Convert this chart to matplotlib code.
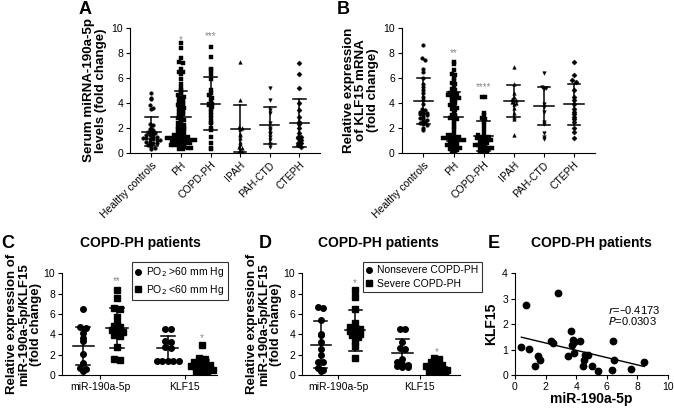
import numpy as np
import matplotlib.pyplot as plt

plt.rcParams['font.family'] = ['Liberation Sans', 'DejaVu Sans']

# ---- panel A: serum miRNA-190a-5p ----
cats = ['Healthy controls', 'PH', 'COPD-PH', 'IPAH', 'PAH-CTD', 'CTEPH']
a_healthy = [4.8, 4.4, 4.3, 3.8, 3.6, 3.5, 2.3, 2.2, 2.0, 1.9, 1.8, 1.7, 1.7, 1.6, 1.5, 1.5,
             1.4, 1.4, 1.3, 1.3, 1.2, 1.2, 1.1, 1.1, 1.0, 1.0, 0.9, 0.9, 0.8, 0.8, 0.7, 0.6,
             0.5, 0.4, 0.3]
a_ph = [8.8, 8.4, 7.6, 7.3, 7.2, 6.7, 6.5, 6.5, 6.3, 5.9, 5.5, 5.2, 5.0, 4.9, 4.8, 4.6,
        4.4, 4.3, 4.2, 4.1, 4.0, 3.9, 3.9, 3.8, 3.7, 3.5, 3.4, 3.3, 3.2, 3.0, 2.9, 2.8,
        2.7, 2.5, 2.4, 2.3, 2.2, 2.1, 2.0, 2.0, 1.9, 1.8, 1.7, 1.6, 1.5, 1.5, 1.4, 1.4,
        1.3, 1.3, 1.3, 1.2, 1.2, 1.2, 1.1, 1.1, 1.1, 1.0, 1.0, 1.0, 0.9, 0.9, 0.9, 0.8,
        0.8, 0.8, 0.7, 0.7, 0.7, 0.6, 0.6, 0.6, 0.5, 0.5, 0.4, 0.4, 0.3, 0.3, 3.6, 4.5,
        2.6, 1.6, 1.9, 3.1]
a_copd = [8.5, 7.7, 6.7, 6.6, 6.3, 5.9, 5.0, 4.8, 4.6, 4.4, 4.3, 4.0, 3.9, 3.9, 3.8, 3.7,
          3.5, 3.3, 3.0, 2.8, 2.5, 2.4, 2.0, 1.8, 1.3, 0.8, 0.4, 0.3]
a_ipah = [7.3, 4.2, 2.1, 2.0, 1.9, 1.5, 1.4, 1.2, 0.9, 0.7, 0.5, 0.4, 0.2, 0.1, 0.05]
a_ctd = [5.2, 4.2, 3.4, 3.2, 2.4, 2.0, 1.8, 1.6, 1.5, 1.3, 1.0, 0.7, 0.5]
a_cteph = [7.2, 6.3, 5.2, 4.0, 3.4, 2.9, 2.5, 2.3, 2.0, 1.6, 1.3, 1.3, 1.2, 1.0, 0.8, 0.8,
           0.6, 0.5]
a_mean = [1.7, 2.85, 3.95, 1.95, 2.2, 2.4]
a_sd = [1.15, 2.1, 2.15, 1.85, 1.45, 1.95]
a_stars = ['', '*', '***', '', '', '']
a_star_y = [0, 9.0, 9.35, 0, 0, 0]

# ---- panel B: KLF15 mRNA ----
b_healthy = [8.6, 7.6, 7.4, 6.7, 6.5, 6.0, 5.5, 5.3, 5.0, 4.8, 4.5, 4.2, 3.9, 3.5, 3.4, 3.3,
             3.2, 3.2, 3.1, 3.1, 3.0, 2.9, 2.8, 2.7, 2.6, 2.5, 2.5, 2.4, 2.3, 2.2, 2.0, 1.8]
b_ph = [7.3, 7.1, 6.6, 6.3, 6.2, 6.0, 5.8, 5.6, 5.5, 5.3, 5.1, 5.0, 4.9, 4.8, 4.8, 4.7,
        4.6, 4.5, 4.5, 4.4, 4.3, 4.2, 4.1, 4.0, 3.9, 3.8, 3.7, 3.6, 3.5, 3.4, 3.2, 3.0,
        3.0, 2.9, 2.9, 2.8, 2.8, 2.7, 2.5, 2.3, 2.1, 1.9, 1.6, 1.4, 1.4, 1.3, 1.3, 1.2,
        1.2, 1.2, 1.1, 1.1, 1.0, 1.0, 0.9, 0.8, 0.8, 0.7, 0.6, 0.6, 0.5, 0.5, 0.4, 0.3,
        0.3, 0.2, 0.1, 0.05]
b_copd = [4.5, 4.5, 3.2, 3.0, 2.8, 2.7, 2.5, 2.2, 1.9, 1.6, 1.4, 1.3, 1.3, 1.3, 1.2, 1.2,
          1.1, 1.0, 1.0, 0.9, 0.8, 0.8, 0.7, 0.7, 0.6, 0.6, 0.5, 0.5, 0.4, 0.4, 0.3, 0.3,
          0.2, 0.1, 0.1, 0.05]
b_ipah = [6.9, 5.5, 4.8, 4.5, 4.3, 4.2, 4.1, 4.0, 3.9, 3.6, 3.2, 2.9, 2.7, 1.4]
b_ctd = [6.4, 5.3, 5.2, 5.1, 3.9, 3.7, 3.3, 2.5, 2.3, 1.6, 1.3, 1.1]
b_cteph = [7.3, 6.2, 5.8, 5.7, 5.0, 4.5, 4.2, 3.9, 3.5, 3.3, 3.1, 2.9, 2.7, 2.5, 2.0, 1.7,
           1.2]
b_mean = [4.15, 2.9, 1.35, 4.15, 3.75, 3.9]
b_sd = [1.85, 1.95, 1.2, 1.3, 1.55, 1.65]
b_stars = ['', '**', '****', '', '', '']
b_star_y = [0, 8.0, 5.25, 0, 0, 0]

markers6 = ['o', 's', 's', '^', 'v', 'D']

# ---- panels C and D ----
groups = ['miR-190a-5p', 'KLF15']
c_circ = [[6.5, 4.75, 4.6, 4.1, 3.6, 3.3, 2.1, 1.2, 0.7, 0.6, 0.4],
          [4.5, 4.5, 3.3, 3.2, 2.8, 2.7, 1.4, 1.4, 1.4, 1.4, 1.4]]
c_sq = [[8.4, 7.6, 6.6, 6.5, 5.7, 5.0, 4.8, 4.7, 4.4, 4.3, 4.2, 3.9, 3.8, 2.8, 1.6, 1.5],
        [3.0, 1.7, 1.6, 1.3, 1.2, 1.1, 1.0, 0.9, 0.8, 0.7, 0.6, 0.5, 0.4, 0.3, 0.3]]
c_circ_stat = [(2.85, 1.9), (2.65, 1.2)]
c_sq_stat = [(4.6, 1.95), (1.0, 0.5)]
c_stars = ['**', '*']
c_star_y = [9.2, 3.6]
c_legend = ['PO$_2$ >60 mm Hg', 'PO$_2$ <60 mm Hg']

d_circ = [[6.7, 6.6, 5.4, 4.0, 3.9, 3.2, 2.6, 2.0, 1.3, 1.3, 0.7, 0.5, 0.4],
          [4.5, 4.5, 3.2, 2.7, 2.6, 1.6, 1.3, 1.1, 1.0, 0.9, 0.8, 0.8]]
d_sq = [[8.4, 7.7, 6.5, 5.1, 4.7, 4.6, 4.5, 4.3, 4.2, 4.0, 3.9, 3.7, 3.3, 2.9, 1.7],
        [1.7, 1.6, 1.3, 1.2, 1.0, 0.9, 0.8, 0.7, 0.6, 0.5, 0.4, 0.3, 0.3, 0.2]]
d_circ_stat = [(3.0, 2.3), (2.15, 1.4)]
d_sq_stat = [(4.4, 2.0), (0.75, 0.45)]
d_stars = ['*', '*']
d_star_y = [9.0, 2.3]
d_legend = ['Nonsevere COPD-PH', 'Severe COPD-PH']

# ---- panel E ----
e_mir = [0.42, 0.70, 0.91, 1.29, 1.48, 1.67, 2.34, 2.47, 2.83, 3.50, 3.69, 3.73, 3.82,
         3.84, 3.88, 4.28, 4.47, 4.54, 4.58, 4.79, 5.06, 5.46, 6.33, 6.41, 6.50, 7.60, 8.45]
e_klf = [1.11, 2.77, 1.01, 0.34, 0.73, 0.58, 1.33, 1.27, 3.23, 0.75, 1.73, 1.19, 1.37,
         0.86, 1.30, 1.32, 0.34, 0.59, 0.77, 0.77, 0.34, 0.14, 0.20, 1.33, 0.58, 0.25, 0.51]


def swarm(vals, center, binh, dx):
    vals = np.asarray(vals, float)
    xs = np.zeros(len(vals))
    bins = np.floor(vals / binh)
    for b in np.unique(bins):
        idx = np.where(bins == b)[0]
        n = len(idx)
        xs[idx] = center + (np.arange(n) - (n - 1) / 2) * dx
    return xs, vals


def errbar(ax, x, m, s, mw, cw):
    ax.plot([x - mw / 2, x + mw / 2], [m, m], c='k', lw=1.1, zorder=4)
    ax.plot([x, x], [m - s, m + s], c='k', lw=1.1, zorder=4)
    for yy in (m - s, m + s):
        ax.plot([x - cw / 2, x + cw / 2], [yy, yy], c='k', lw=1.1, zorder=4)


def style(ax):
    for sp in ('top', 'right'):
        ax.spines[sp].set_visible(False)
    ax.tick_params(labelsize=7.5, length=3, width=0.8, pad=2)


fig = plt.figure(figsize=(6.74, 4.09), dpi=100)

# A and B
for pos, data, means, sds, stars, stary, ylab, lab, labx in [
        ([0.193, 0.626, 0.282, 0.306], [a_healthy, a_ph, a_copd, a_ipah, a_ctd, a_cteph],
         a_mean, a_sd, a_stars, a_star_y, 'Serum miRNA-190a-5p\nlevels (fold change)', 'A', 0.116),
        ([0.596, 0.626, 0.287, 0.306], [b_healthy, b_ph, b_copd, b_ipah, b_ctd, b_cteph],
         b_mean, b_sd, b_stars, b_star_y, 'Relative expression\nof KLF15 mRNA\n(fold change)', 'B', 0.499)]:
    ax = fig.add_axes(pos)
    for i, vals in enumerate(data):
        xs, ys = swarm(vals, i, 0.2, 0.115)
        ax.plot(xs, ys, ls='none', marker=markers6[i], ms=2.6, mfc='k', mec='k', mew=0.3, zorder=3)
        errbar(ax, i, means[i], sds[i], 0.65, 0.42)
        if stars[i]:
            ax.text(i, stary[i], stars[i], ha='center', va='center', fontsize=7, color='#8a8a8a')
    ax.set_xlim(-0.72, 5.7)
    ax.set_ylim(0, 10)
    ax.set_yticks([0, 2, 4, 6, 8, 10])
    ax.set_xticks(range(6))
    ax.set_xticklabels(cats, rotation=45, ha='right', rotation_mode='anchor')
    style(ax)
    ax.set_ylabel(ylab, fontsize=9.6, fontweight='bold', labelpad=3, linespacing=1.0)
    fig.text(labx, 0.998, lab, fontsize=13, fontweight='bold', va='top')

# C and D
for pos, circ, sq, cstat, sstat, stars, stary, leg, lab, labx, xlim, off, legx, titx in [
        ([0.092, 0.083, 0.23, 0.249], c_circ, c_sq, c_circ_stat, c_sq_stat, c_stars, c_star_y,
         c_legend, 'C', 0.002, (-0.45, 1.38), 0.2, 0.196, 0.208),
        ([0.448, 0.083, 0.234, 0.249], d_circ, d_sq, d_circ_stat, d_sq_stat, d_stars, d_star_y,
         d_legend, 'D', 0.384, (-0.44, 1.49), 0.21, 0.538, 0.561)]:
    ax = fig.add_axes(pos)
    for g in range(2):
        xs, ys = swarm(circ[g], g - off, 0.5, 0.065)
        h1, = ax.plot(xs, ys, ls='none', marker='o', ms=4, mfc='k', mec='k', zorder=3)
        xs, ys = swarm(sq[g], g + off, 0.5, 0.065)
        h2, = ax.plot(xs, ys, ls='none', marker='s', ms=4, mfc='k', mec='k', zorder=3)
        errbar(ax, g - off, cstat[g][0], cstat[g][1], 0.25, 0.16)
        errbar(ax, g + off, sstat[g][0], sstat[g][1], 0.25, 0.16)
        ax.text(g + off, stary[g], stars[g], ha='center', va='center', fontsize=7, color='#8a8a8a')
    ax.set_xlim(*xlim)
    ax.set_ylim(0, 10)
    ax.set_yticks([0, 2, 4, 6, 8, 10])
    ax.set_xticks([0, 1])
    ax.set_xticklabels(groups)
    style(ax)
    ax.set_ylabel('Relative expression of\nmiR-190a-5p/KLF15\n(fold change)', fontsize=9.5,
                  fontweight='bold', labelpad=1, linespacing=1.0)
    lg = fig.legend([h1, h2], leg, loc='upper left', bbox_to_anchor=(legx, 0.36), fontsize=7.5,
                    frameon=True, fancybox=False, edgecolor='k', handlelength=0.5,
                    handletextpad=0.5, borderpad=0.35, labelspacing=0.3, borderaxespad=0)
    lg.get_frame().set_linewidth(0.8)
    fig.text(titx, 0.405, 'COPD-PH patients', fontsize=10, fontweight='bold', ha='center', va='center')
    fig.text(labx, 0.405, lab, fontsize=13, fontweight='bold', va='center')

# E
ax = fig.add_axes([0.764, 0.083, 0.227, 0.249])
ax.plot(e_mir, e_klf, ls='none', marker='o', ms=4.6, mfc='k', mec='k')
k, b0 = np.polyfit(e_mir, e_klf, 1)
xx = np.array([min(e_mir), max(e_mir)])
ax.plot(xx, k * xx + b0, c='k', lw=1)
ax.text(6.1, 2.55, r'$\it{r}$=–0.4173', fontsize=8, va='center')
ax.text(6.1, 2.12, r'$\it{P}$=0.0303', fontsize=8, va='center')
ax.set_xlim(0, 10)
ax.set_ylim(0, 4)
ax.set_xticks([0, 2, 4, 6, 8, 10])
ax.set_yticks([0, 1, 2, 3, 4])
style(ax)
ax.set_xlabel('miR-190a-5p', fontsize=10, fontweight='bold', labelpad=0)
ax.set_ylabel('KLF15', fontsize=10, fontweight='bold', labelpad=3)
fig.text(0.878, 0.405, 'COPD-PH patients', fontsize=10, fontweight='bold', ha='center', va='center')
fig.text(0.724, 0.405, 'E', fontsize=13, fontweight='bold', va='center')

fig.savefig('out.png', dpi=100)
